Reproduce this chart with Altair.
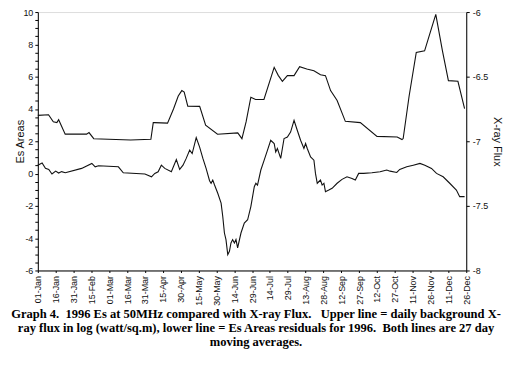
import altair as alt
import pandas as pd

# Upper line: daily background X-ray flux, log(watt/sq.m), 27-day moving average (right axis)
xray_days = [0, 9, 13, 16, 17.5, 23, 41, 43, 47, 78, 95, 97, 98, 109, 114, 118, 121, 123, 126,
             136, 141, 151, 168, 171.5, 175, 179, 183, 190, 198.6, 202, 205.5, 209.7, 215.3,
             220, 226, 232, 237.5, 241.7, 246, 251.5, 258.4, 271, 285, 302, 306, 307, 312,
             318, 325, 330, 334.4, 340, 345, 353, 358.6]
xray_flux = [-6.80, -6.795, -6.85, -6.855, -6.833, -6.945, -6.945, -6.933, -6.98, -6.99, -6.985,
             -6.856, -6.856, -6.86, -6.75, -6.65, -6.608, -6.62, -6.728,
             -6.73, -6.875, -6.946, -6.935, -6.98, -6.85, -6.659, -6.677, -6.677, -6.428, -6.49,
             -6.536, -6.492, -6.492, -6.423, -6.441, -6.454, -6.485, -6.492, -6.608, -6.685,
             -6.846, -6.856, -6.962, -6.967, -6.987, -6.979, -6.65, -6.313, -6.30, -6.15, -6.018,
             -6.30, -6.531, -6.536, -6.748]

# Lower line: Es Areas residuals, 27-day moving average (left axis)
es_days = [0, 3.6, 6.4, 9.2, 11.9, 15, 17.5, 20, 23.1, 36.8, 45.4, 48.2, 51, 67.7, 71.8, 90,
           95.5, 98.3, 101.1, 103.8, 106.7, 112.2, 116.4, 119.2, 122, 124.7, 127.6, 129.7,
           133.1, 135.9, 138.7, 141.4, 144.3, 145.6, 147, 148.5, 151.2, 154, 155.4, 156.8,
           158.1, 159.6, 161, 162.3, 163.7, 165.2, 166.5, 167.9, 170.7, 173.5, 176.3, 179,
           181.9, 183.2, 184.6, 187.4, 190.2, 193, 195.7, 198.6, 199.9, 201.3, 204.1, 206.9,
           209.7, 212.4, 215.3, 218, 220.8, 223.6, 225, 226.4, 229.2, 232, 233.3, 234.8, 237.5,
           238.9, 240.4, 241.7, 244.5, 247.3, 251.5, 255.6, 259.8, 264, 266.8, 269.6, 273.8,
           280.7, 287.6, 293.2, 296, 301.6, 304.1, 310, 315.5, 321.1, 325.2, 330.8, 335,
           340.6, 346.1, 351.7, 354.5, 358.6]
es_values = [0.52, 0.66, 0.32, 0.26, -0.03, 0.15, 0.03, 0.12, 0.05, 0.32, 0.63, 0.42, 0.48,
             0.42, 0.05, -0.03, -0.20, 0.01, 0.11, 0.52, 0.32, 0.11, 0.87, 0.26, 0.52, 0.94,
             1.45, 1.24, 2.23, 1.65, 0.94, 0.32, -0.44, -0.60, -0.40, -0.71, -1.22, -1.83,
             -2.66, -3.68, -4.09, -5.02, -4.81, -4.30, -4.09, -4.30, -4.09, -4.60, -3.68,
             -3.06, -2.86, -2.04, -0.81, -0.60, -0.71, 0.22, 0.83, 1.45, 2.06, 1.86, 1.34,
             1.55, 0.94, 2.17, 2.26, 2.57, 3.29, 2.68, 2.06, 1.55, 1.86, 1.55, 1.03, 0.83,
             0.01, -0.60, -0.40, -0.71, -0.60, -1.12, -1.02, -0.91, -0.60, -0.36, -0.20,
             -0.30, -0.40, 0.01, 0.01, 0.05, 0.11, 0.22, 0.15, 0.07, 0.26, 0.42, 0.52, 0.63,
             0.52, 0.32, 0.01, -0.20, -0.60, -1.02, -1.43, -1.43]

tick_day_offsets = list(range(0, 361, 15))
left_tick_values = [v / 2 for v in range(-12, 21)]
right_tick_values = [-8, -7.5, -7, -6.5, -6]

caption = [
    "Graph 4.\u00a0 1996 Es at 50MHz compared with X-ray Flux.\u00a0\u00a0 Upper line = daily background X-",
    "ray flux in log (watt/sq.m), lower line = Es Areas residuals for 1996.\u00a0 Both lines are 27 day",
    "moving averages.",
]

base = pd.Timestamp("1996-01-01")
xray_df = pd.DataFrame({"date": base + pd.to_timedelta(xray_days, unit="D"), "flux": xray_flux})
es_df = pd.DataFrame({"date": base + pd.to_timedelta(es_days, unit="D"), "es": es_values})

tick_dates = [base + pd.Timedelta(days=d) for d in tick_day_offsets]
tick_values = [alt.DateTime(year=t.year, month=t.month, date=t.day) for t in tick_dates]
x_domain = [alt.DateTime(year=1996, month=1, date=1), alt.DateTime(year=1996, month=12, date=26)]

x_enc = alt.X(
    "date:T",
    scale=alt.Scale(domain=x_domain),
    axis=alt.Axis(values=tick_values, format="%d-%b", labelAngle=270, title=None, grid=False,
                  tickSize=2, labelPadding=3, labelFontSize=9, labelFont="Liberation Sans",
                  labelColor="#111", domainColor="black", tickColor="black",
                  labelOverlap=False),
)

es_line = alt.Chart(es_df).mark_line(color="#111", strokeWidth=1.1).encode(
    x=x_enc,
    y=alt.Y(
        "es:Q",
        scale=alt.Scale(domain=[-6, 10], nice=False, zero=False),
        axis=alt.Axis(values=left_tick_values, labelExpr="datum.value % 2 === 0 ? '' + datum.value : ''",
                      title="Es Areas", titleFontSize=11, titleFontWeight="normal",
                      titleFont="Liberation Sans", titlePadding=-3, titleColor="#111",
                      grid=False, tickSize=3, labelFontSize=9, labelFont="Liberation Sans",
                      labelColor="#111", labelPadding=2, domainColor="black",
                      tickColor="black", labelOverlap=False),
    ),
)

xray_line = alt.Chart(xray_df).mark_line(color="#111", strokeWidth=1.1).encode(
    x=x_enc,
    y=alt.Y(
        "flux:Q",
        scale=alt.Scale(domain=[-8, -6], nice=False, zero=False),
        axis=alt.Axis(orient="right", values=right_tick_values, labelExpr="'' + datum.value",
                      title="X-ray Flux", titleFontSize=11, titleFontWeight="normal",
                      titleFont="Liberation Sans", titlePadding=4, titleColor="#111",
                      grid=False, tickSize=3, labelFontSize=9, labelFont="Liberation Sans",
                      labelColor="#111", labelPadding=3, domainColor="black",
                      tickColor="black", labelOverlap=False),
    ),
)

chart = alt.layer(es_line, xray_line).resolve_scale(y="independent").properties(
    width=431,
    height=260,
    autosize=alt.AutoSizeParams(type="none"),
    padding={"left": 30, "top": 3, "right": 42, "bottom": 90},
    title=alt.TitleParams(text=caption, orient="bottom", anchor="middle", fontSize=12.6,
                          font="Liberation Serif", fontWeight="bold", lineHeight=14,
                          offset=3, dx=4, color="black"),
).configure_view(stroke="black", strokeWidth=1).configure(background="white")

chart.save("out.html", embed_options={"renderer": "svg", "actions": False})
